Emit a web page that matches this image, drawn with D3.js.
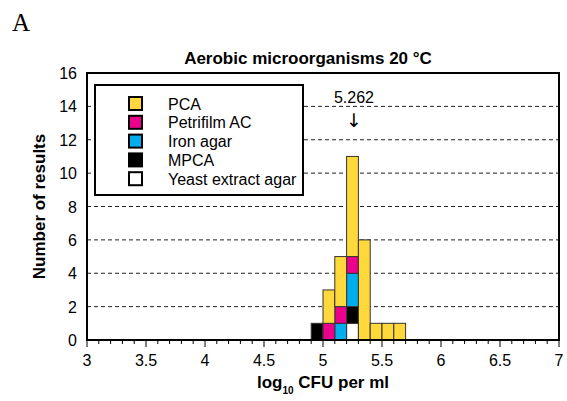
<!DOCTYPE html>
<html>
<head>
<meta charset="utf-8">
<script src="https://cdn.jsdelivr.net/npm/d3@7"></script>
<style>
  body { margin: 0; background: #fff; }
  text { font-family: "Liberation Sans", Arial, sans-serif; }
</style>
</head>
<body>
<script>
var w = 567, h = 401;
var margin = {left: 87, top: 73, right: 8, bottom: 61};

// bins are 0.1 log units wide
var binStarts = [4.9, 5.0, 5.1, 5.2, 5.3, 5.4, 5.5, 5.6];
var media = ["Yeast extract agar", "MPCA", "Iron agar", "Petrifilm AC", "PCA"];
var yeast     = [0, 0, 0, 1, 0, 0, 0, 0];
var mpca      = [1, 0, 0, 1, 0, 0, 0, 0];
var ironAgar  = [0, 0, 1, 2, 0, 0, 0, 0];
var petrifilm = [0, 1, 1, 1, 0, 0, 0, 0];
var pca       = [0, 2, 3, 6, 6, 1, 1, 1];
var colors = ["#ffffff", "#000000", "#00aeef", "#ec008c", "#ffd83c"];
var legendOrder = ["PCA", "Petrifilm AC", "Iron agar", "MPCA", "Yeast extract agar"];
var xTicks = [3, 3.5, 4, 4.5, 5, 5.5, 6, 6.5, 7];
var yTicks = [0, 2, 4, 6, 8, 10, 12, 14, 16];
var median = 5.262;

var svg = d3.select("body").append("svg")
            .attr("width", w)
            .attr("height", h);

var pw = w - margin.left - margin.right,
    ph = h - margin.top - margin.bottom;

var x = d3.scaleLinear().domain([3, 7]).range([margin.left, margin.left + pw]);
var y = d3.scaleLinear().domain([0, 16]).range([margin.top + ph, margin.top]);

// panel letter + title
svg.append("text").attr("x", 12).attr("y", 31)
   .style("font-family", "'Liberation Serif', 'Times New Roman', serif")
   .style("font-size", "25px").text("A");
svg.append("text").attr("x", 308).attr("y", 64)
   .attr("text-anchor", "middle")
   .style("font-size", "17px").style("font-weight", "bold")
   .text("Aerobic microorganisms 20 °C");

// dashed gridlines
svg.append("g").selectAll("line")
   .data(yTicks.filter(function(d) { return d > 0 && d < 16; }))
   .enter().append("line")
   .attr("x1", x(3)).attr("x2", x(7))
   .attr("y1", function(d) { return y(d); })
   .attr("y2", function(d) { return y(d); })
   .attr("stroke", "#222")
   .attr("stroke-width", 1)
   .attr("stroke-dasharray", "4,3");

// stacked bars
var table = binStarts.map(function(b, i) {
  return {bin: b, "Yeast extract agar": yeast[i], "MPCA": mpca[i], "Iron agar": ironAgar[i],
          "Petrifilm AC": petrifilm[i], "PCA": pca[i]};
});
var series = d3.stack().keys(media)(table);
var bars = svg.append("g");
series.forEach(function(s, k) {
  bars.selectAll(".s" + k)
      .data(s.filter(function(d) { return d[1] > d[0]; }))
      .enter().append("rect")
      .attr("x", function(d) { return x(d.data.bin); })
      .attr("width", function(d) { return x(d.data.bin + 0.1) - x(d.data.bin); })
      .attr("y", function(d) { return y(d[1]); })
      .attr("height", function(d) { return y(d[0]) - y(d[1]); })
      .attr("fill", colors[k])
      .attr("stroke", "#333")
      .attr("stroke-width", 1);
});

// frame
svg.append("rect")
   .attr("x", x(3)).attr("y", y(16))
   .attr("width", x(7) - x(3)).attr("height", y(0) - y(16))
   .attr("fill", "none").attr("stroke", "#000").attr("stroke-width", 2);

// x axis ticks
var minor = d3.range(30, 71).map(function(d) { return d / 10; });
svg.append("g").selectAll("line")
   .data(minor).enter().append("line")
   .attr("x1", function(d) { return x(d); }).attr("x2", function(d) { return x(d); })
   .attr("y1", y(0))
   .attr("y2", function(d, i) { return y(0) + (i % 5 == 0 ? 7 : 4); })
   .attr("stroke", "#000").attr("stroke-width", 1);
svg.append("g").selectAll("text")
   .data(xTicks).enter().append("text")
   .attr("x", function(d) { return x(d); })
   .attr("y", y(0) + 26)
   .attr("text-anchor", "middle")
   .style("font-size", "16px")
   .text(function(d) { return d; });

// y labels
svg.append("g").selectAll("text")
   .data(yTicks).enter().append("text")
   .attr("x", x(3) - 10)
   .attr("y", function(d) { return y(d) + 6; })
   .attr("text-anchor", "end")
   .style("font-size", "16px")
   .text(function(d) { return d; });

// axis titles
var xt = svg.append("text").attr("x", 323).attr("y", y(0) + 48)
   .attr("text-anchor", "middle")
   .style("font-size", "17px").style("font-weight", "bold");
xt.append("tspan").text("log");
xt.append("tspan").attr("dy", 6).style("font-size", "10px").text("10");
xt.append("tspan").attr("dy", -6).text(" CFU per ml");

svg.append("text")
   .attr("transform", "translate(45," + ((y(0) + y(16)) / 2) + ") rotate(-90)")
   .attr("text-anchor", "middle")
   .style("font-size", "17px").style("font-weight", "bold")
   .text("Number of results");

// median annotation
svg.append("text").attr("x", x(median)).attr("y", 103)
   .attr("text-anchor", "middle").style("font-size", "16px")
   .text(median);
svg.append("text").attr("x", x(median)).attr("y", 127)
   .attr("text-anchor", "middle")
   .style("font-family", "'DejaVu Sans', sans-serif")
   .style("font-size", "19px")
   .text("↓");

// legend
var lg = svg.append("g").attr("transform", "translate(95,85)");
lg.append("rect").attr("width", 208).attr("height", 110)
  .attr("fill", "#fff").attr("stroke", "#000").attr("stroke-width", 2);
var item = lg.selectAll(".legend")
   .data(legendOrder).enter().append("g")
   .attr("class", "legend")
   .attr("transform", function(d, i) { return "translate(34," + (12 + i * 18.8) + ")"; });
item.append("rect").attr("width", 13).attr("height", 13)
    .attr("fill", function(d) { return colors[media.indexOf(d)]; })
    .attr("stroke", "#000").attr("stroke-width", 2);
item.append("text").attr("x", 39).attr("y", 12.5)
    .style("font-size", "16px")
    .text(function(d) { return d; });
</script>
</body>
</html>
